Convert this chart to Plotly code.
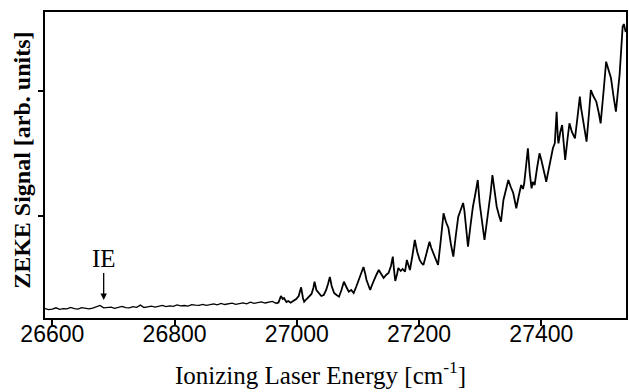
import plotly.graph_objects as go

# Baseline region (cm^-1, arb. units)
x_base = [26588, 26594, 26600, 26606, 26612, 26618, 26624, 26630, 26636, 26642,
          26648, 26654, 26660, 26666, 26672, 26678, 26684, 26690, 26696, 26702,
          26708, 26714, 26720, 26726, 26732, 26738, 26744, 26750, 26756, 26762,
          26768, 26774, 26780, 26786, 26792, 26798, 26804, 26810, 26816, 26822,
          26828, 26834, 26840, 26846, 26852, 26858, 26864, 26870, 26876, 26882,
          26888, 26894, 26900, 26906, 26912, 26918, 26924, 26930, 26936, 26942,
          26948, 26954, 26960, 26966]
y_base = [9.5, 8.4, 8.9, 10.2, 8.6, 9.4, 9.1, 10.6, 9.3, 8.8,
          10.4, 10.1, 9.2, 9.9, 11.4, 12.6, 10.2, 10.6, 10.9, 9.7,
          10.8, 11.6, 10.4, 10.1, 11.3, 10.7, 12.9, 10.5, 11.2, 11.8,
          10.9, 11.4, 12.6, 11.3, 12.1, 11.7, 13.1, 12.2, 12.5, 11.9,
          13.4, 12.8, 12.6, 13.6, 12.7, 13.3, 14.2, 13.1, 14.6, 13.5,
          13.9, 14.8, 13.6, 14.4, 15.2, 14.1, 15.9, 14.7, 15.1, 16.2,
          15.0, 15.6, 16.6, 14.7]

# Rising region
x_rise = [26970, 26974, 26977, 26979, 26983, 26986, 26990, 26994, 26999, 27003,
          27007, 27010, 27012, 27016, 27020, 27024, 27027, 27029, 27032, 27036,
          27040, 27044, 27048, 27051, 27054, 27057, 27061, 27065, 27069, 27073,
          27077, 27081, 27085, 27089, 27093, 27097, 27101, 27105, 27109, 27112,
          27114, 27117, 27120, 27123, 27126, 27130, 27134, 27138, 27142, 27146,
          27150, 27154, 27157, 27159, 27161, 27164, 27166, 27170, 27173, 27177,
          27180, 27183, 27185, 27189, 27193, 27197, 27201, 27204, 27207, 27211,
          27214, 27217, 27220, 27223, 27227, 27231, 27235, 27238, 27240, 27244,
          27248, 27252, 27256, 27260, 27264, 27268, 27272, 27274, 27277, 27280,
          27284, 27288, 27292, 27296, 27299, 27302, 27305, 27307, 27310, 27313,
          27317, 27320, 27323, 27327, 27331, 27334, 27338, 27342, 27346, 27350,
          27354, 27357, 27359, 27363, 27367, 27370, 27372, 27375, 27378, 27381,
          27384, 27386, 27389, 27393, 27397, 27400, 27403, 27406, 27408, 27412,
          27416, 27419, 27422, 27425, 27427, 27428, 27431, 27434, 27437, 27439,
          27443, 27446, 27450, 27455, 27459, 27463, 27465, 27467, 27471, 27474,
          27478, 27481, 27485, 27490, 27494, 27497, 27502, 27506, 27510, 27514,
          27518, 27522, 27525, 27528, 27531, 27533, 27535, 27538]
y_rise = [15.5, 22, 19, 20, 16, 17, 15.3, 17, 19, 22,
          30.7, 20, 16.3, 19, 21.3, 24, 30, 36.3, 28, 24.7,
          22, 23, 28, 34, 41, 32, 25, 23, 21.3, 28,
          36.3, 31, 26.3, 28, 25, 31, 38, 44, 51, 44,
          38, 33, 28, 33, 38, 43, 48, 44, 40, 43,
          45, 52, 61.3, 48, 37, 44, 50, 47, 49, 46.3,
          58, 52, 48, 62, 78, 66, 58, 55, 53, 62,
          70, 76.3, 70, 65, 58, 53, 75, 95, 104.7, 96,
          90, 74, 61.3, 82, 101, 108, 115, 108, 92, 71.3,
          92, 111, 124, 138, 115, 100, 90, 78, 92, 105,
          125, 143, 128, 111.3, 102, 96.3, 118, 128, 138, 131,
          125, 116, 109.7, 122, 133, 129, 135, 152, 169.7, 145,
          129.7, 136, 133, 150, 164.7, 158, 151.3, 142, 136.3, 150,
          163, 170, 174.7, 206.3, 180, 174.7, 186, 193, 172, 158,
          180, 194.7, 186, 179.7, 200, 221.3, 210, 203, 188, 176.3,
          205, 228, 222, 216.3, 205, 194.7, 228, 256.3, 248, 239.7,
          222, 206.3, 225, 243, 272, 291.3, 294, 286]

x_ticks = [26600, 26800, 27000, 27200, 27400]
y_ticks = [102, 227]

ie_x = 26684
ie_y = 18

fig = go.Figure()
fig.add_trace(go.Scatter(x=x_base, y=y_base, mode="lines",
                         line=dict(color="black", width=1.3),
                         showlegend=False, hoverinfo="skip"))
fig.add_trace(go.Scatter(x=[x_base[-1]] + x_rise, y=[y_base[-1]] + y_rise,
                         mode="lines", line=dict(color="black", width=1.8),
                         showlegend=False, hoverinfo="skip"))
# invisible trace on the overlay axis that carries the tick labels
fig.add_trace(go.Scatter(x=[x_base[0]], y=[y_base[0]], xaxis="x2", mode="lines",
                         line=dict(color="rgba(0,0,0,0)"), showlegend=False,
                         hoverinfo="skip"))

fig.add_annotation(x=ie_x, y=ie_y, xref="x", yref="y", text="IE",
                   showarrow=True, ax=0, ay=-42, arrowhead=2, arrowsize=1,
                   arrowwidth=1.3, arrowcolor="black", standoff=0,
                   font=dict(family="Liberation Serif", size=25, color="black"))

fig.add_annotation(x=0.475, y=-0.18, xref="paper", yref="paper",
                   text="Ionizing Laser Energy [cm<sup>-1</sup>]", showarrow=False,
                   xanchor="center", yanchor="middle",
                   font=dict(family="Liberation Serif", size=25, color="black"))

fig.add_annotation(x=-0.04, y=0.516, xref="paper", yref="paper",
                   text="<b>ZEKE Signal [arb. units]</b>", showarrow=False,
                   textangle=-90, xanchor="center", yanchor="middle",
                   font=dict(family="Liberation Serif", size=24, color="black"))

xr = [26588, 27538.5]
fig.update_layout(
    width=629, height=392,
    margin=dict(l=45, r=1, t=12, b=74),
    paper_bgcolor="white", plot_bgcolor="white",
    xaxis=dict(range=xr, tickvals=x_ticks, showticklabels=False,
               ticks="outside", ticklen=6, tickwidth=1.5, tickcolor="black",
               showline=True, linecolor="black", linewidth=2, mirror=True,
               showgrid=False, zeroline=False),
    xaxis2=dict(range=xr, overlaying="x", anchor="free", position=0, side="bottom",
                tickvals=x_ticks, ticktext=[str(v) for v in x_ticks],
                ticks="", showline=False, showgrid=False, zeroline=False,
                tickfont=dict(family="Liberation Sans", size=23, color="black")),
    yaxis=dict(range=[0, 306], tickvals=y_ticks, showticklabels=False,
               ticks="outside", ticklen=5, tickwidth=1.5, tickcolor="black",
               showline=True, linecolor="black", linewidth=1.5, mirror=True,
               showgrid=False, zeroline=False),
)

fig.write_html("out.html")
